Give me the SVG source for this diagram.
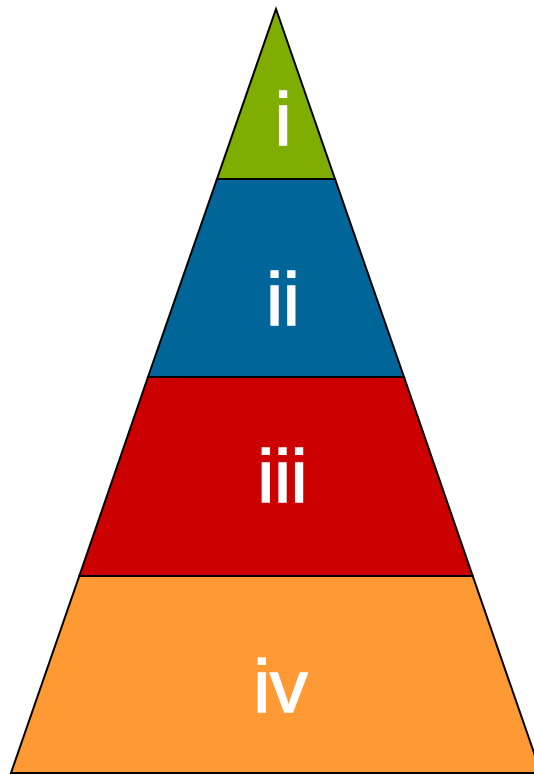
<svg xmlns="http://www.w3.org/2000/svg" width="534" height="775" viewBox="0 0 534 775">
<style>
.tier{stroke:#000;stroke-width:2;stroke-linejoin:miter}
.lbl{font-family:"Liberation Sans",Arial,sans-serif;font-weight:normal;font-size:75px;fill:#fff;stroke:#fff;stroke-width:1.6;text-anchor:middle}
</style>
<rect width="534" height="775" fill="#fff"/>
<g id="tier-iv"><polygon class="tier" points="79.3,576 472.7,576 541,773 11,773" fill="#FF9933"/><text class="lbl" x="280.5" y="712">iv</text></g>
<g id="tier-iii"><polygon class="tier" points="148,377 404,377 472.7,576 79.3,576" fill="#CC0000"/><text class="lbl" x="282.5" y="502">iii</text></g>
<g id="tier-ii"><polygon class="tier" points="217,179 335,179 404,377 148,377" fill="#006699"/><text class="lbl" x="283" y="325">ii</text></g>
<g id="tier-i"><polygon class="tier" points="276,9 335,179 217,179" fill="#7FAD00"/><text class="lbl" x="283" y="145">i</text></g>
</svg>
